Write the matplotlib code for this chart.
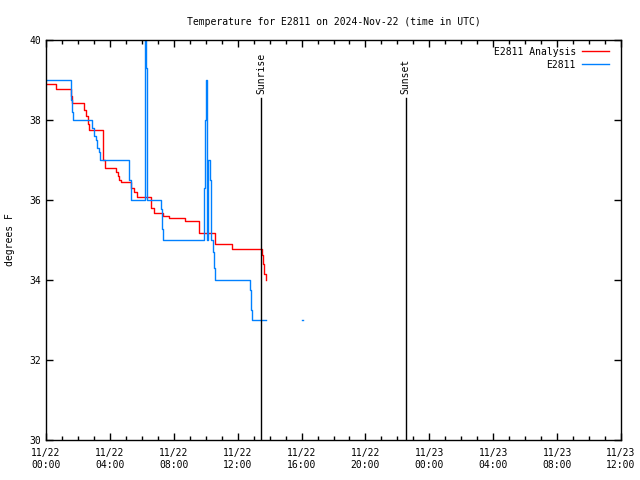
import numpy as np
import matplotlib
matplotlib.use("Agg")
import matplotlib.pyplot as plt

plt.rcParams['font.family'] = ['DejaVu Sans Mono']
plt.rcParams['font.size'] = 7

# hours since 2024-11-22 00:00 UTC
obs_hours = [0.0, 1.55, 1.65, 1.7, 2.9, 3.0, 3.1, 3.2, 3.3, 3.4, 5.2, 5.35,
             6.2, 6.25, 6.3, 6.35, 7.2, 7.25, 7.3,
             9.87, 9.93, 10.0, 10.06, 10.15, 10.27, 10.33, 10.43, 10.54, 10.6,
             12.76, 12.85, 12.9, 13.78, 13.79, 16.0, 16.1]
obs_temps = [39.0, 38.5, 38.2, 38.0, 37.8, 37.6, 37.5, 37.3, 37.2, 37.0, 36.5, 36.0,
             41.0, 39.3, 37.0, 36.0, 35.77, 35.27, 35.0,
             36.3, 38.0, 39.0, 35.0, 37.0, 36.5, 35.0, 34.7, 34.3, 34.0,
             33.75, 33.25, 33.0, 33.0, np.nan, 33.0, 33.0]

ana_hours = [0.0, 0.6, 1.55, 1.65, 2.4, 2.5, 2.6, 2.7, 3.55, 3.7, 4.4, 4.5, 4.6, 4.7,
             5.3, 5.5, 5.7, 6.6, 6.75, 7.35, 7.7, 8.7, 9.55, 10.6, 11.65,
             13.53, 13.6, 13.67, 13.76, 13.8]
ana_temps = [38.89, 38.77, 38.6, 38.42, 38.25, 38.1, 37.9, 37.75, 37.0, 36.8, 36.7, 36.6, 36.5, 36.45,
             36.3, 36.2, 36.07, 35.8, 35.67, 35.6, 35.54, 35.48, 35.18, 34.9, 34.77,
             34.63, 34.4, 34.15, 34.0, 34.0]

sunrise = 13.47
sunset = 22.52

xticks = [0, 4, 8, 12, 16, 20, 24, 28, 32, 36]
xlabels = ["11/22\n00:00", "11/22\n04:00", "11/22\n08:00", "11/22\n12:00", "11/22\n16:00",
           "11/22\n20:00", "11/23\n00:00", "11/23\n04:00", "11/23\n08:00", "11/23\n12:00"]
yticks = [30, 32, 34, 36, 38, 40]

fig = plt.figure(figsize=(6.4, 4.8), dpi=100)
ax = fig.add_axes([46/640, 40/480, 575/640, 400/480])

ax.plot(ana_hours, ana_temps, drawstyle='steps-post', color='#ff0000', lw=1, label='E2811 Analysis')
ax.plot(obs_hours, obs_temps, drawstyle='steps-post', color='#0080ff', lw=1, label='E2811')

ax.axvline(sunrise, ymin=0, ymax=0.855, color='black', lw=1)
ax.axvline(sunset, ymin=0, ymax=0.855, color='black', lw=1)
ax.text(sunrise, 38.65, 'Sunrise', rotation=90, ha='center', va='bottom')
ax.text(sunset, 38.65, 'Sunset', rotation=90, ha='center', va='bottom')

ax.set_xlim(0, 36)
ax.set_ylim(30, 40)
ax.set_xticks(xticks)
ax.set_xticklabels(xlabels)
ax.set_xticks(np.arange(0, 37, 1), minor=True)
ax.set_yticks(yticks)
ax.tick_params(direction='in', top=True, right=True, length=5, width=1)
ax.tick_params(which='minor', direction='in', top=True, length=3, width=1)
ax.tick_params(axis='x', pad=6)
for s in ax.spines.values():
    s.set_linewidth(1)

ax.set_title('Temperature for E2811 on 2024-Nov-22 (time in UTC)', fontsize=7, pad=11)
ax.set_ylabel('degrees F', labelpad=10)

ax.legend(loc='upper right', bbox_to_anchor=(0.991, 1.0), markerfirst=False, frameon=False,
          handlelength=2.8, borderaxespad=0.3, labelspacing=0.3, handletextpad=0.6)

plt.savefig("out.png")
